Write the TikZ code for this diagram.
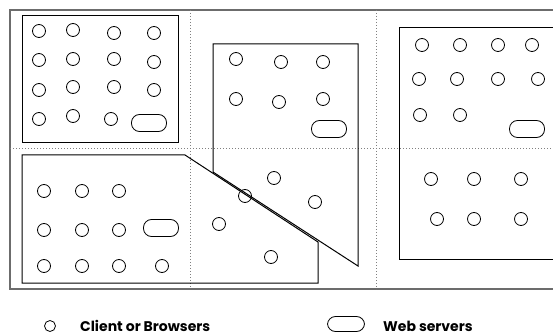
\documentclass[tikz,border=0pt]{standalone}
\usepackage{fontspec}
\setmainfont{Poppins}
\begin{document}
\begin{tikzpicture}[x=1pt,y=-1pt,
  client/.style={circle,draw,line width=0.8pt,minimum size=13pt,inner sep=0pt},
  server/.style={rectangle,draw,line width=0.8pt,rounded corners=8pt,minimum width=35pt,minimum height=17pt,inner sep=0pt},
  zone/.style={draw,line width=1pt},
  frame/.style={draw=gray!85!black,line width=1.4pt},
  grid/.style={draw=gray,line width=1pt,dotted},
  legend/.style={font=\bfseries\fontsize{14}{16}\selectfont,anchor=base west,inner sep=0pt}]
\useasboundingbox (0,0) rectangle (553,336);
\clip (0,0) rectangle (553,336);
% outer frame and dotted grid
\path[frame] (10,10) rectangle (570,289);
\path[grid] (10,149) -- (570,149);
\path[grid] (190,10) -- (190,289);
\path[grid] (376,10) -- (376,289);
% zones
\path[zone] (22,16) rectangle (178,143);
\path[zone] (213,44) -- (358,44) -- (358,266) -- (213,172) -- cycle;
\path[zone] (22,155) -- (185,155) -- (318,242) -- (318,283) -- (22,283) -- cycle;
\path[zone] (399,28) rectangle (580,259);
% top-left zone
\node[client] (a1) at (39,31) {};
\node[client] (a2) at (73,30) {};
\node[client] (a3) at (114,33) {};
\node[client] (a4) at (154,33) {};
\node[client] (a5) at (39,60) {};
\node[client] (a6) at (73,59) {};
\node[client] (a7) at (114,59) {};
\node[client] (a8) at (154,62) {};
\node[client] (a9) at (39,90) {};
\node[client] (a10) at (73,87) {};
\node[client] (a11) at (114,87) {};
\node[client] (a12) at (154,90) {};
\node[client] (a13) at (39,119) {};
\node[client] (a14) at (73,116) {};
\node[client] (a15) at (111,119) {};
\node[server] (as) at (149,123) {};
% middle zone
\node[client] (b1) at (236,59) {};
\node[client] (b2) at (281,62) {};
\node[client] (b3) at (323,62) {};
\node[client] (b4) at (236,99) {};
\node[client] (b5) at (279,102) {};
\node[client] (b6) at (323,99) {};
\node[server] (bs) at (329,129) {};
% right zone
\node[client] (c1) at (422,45) {};
\node[client] (c2) at (460,45) {};
\node[client] (c3) at (498,45) {};
\node[client] (c4) at (532,45) {};
\node[client] (c5) at (419,79) {};
\node[client] (c6) at (457,79) {};
\node[client] (c7) at (498,79) {};
\node[client] (c8) at (538,79) {};
\node[client] (c9) at (420,115) {};
\node[client] (c10) at (460,115) {};
\node[server] (cs) at (527,129) {};
\node[client] (c11) at (431,179) {};
\node[client] (c12) at (474,179) {};
\node[client] (c13) at (521,179) {};
\node[client] (c14) at (437,219) {};
\node[client] (c15) at (474,219) {};
\node[client] (c16) at (521,219) {};
% lower-left zone
\node[client] (d1) at (44,191) {};
\node[client] (d2) at (82,191) {};
\node[client] (d3) at (119,191) {};
\node[client] (d4) at (44,230) {};
\node[client] (d5) at (82,230) {};
\node[client] (d6) at (119,230) {};
\node[server] (ds) at (161,228) {};
\node[client] (d7) at (44,266) {};
\node[client] (d8) at (82,266) {};
\node[client] (d9) at (119,266) {};
\node[client] (d10) at (162,266) {};
% middle lower
\node[client] (e1) at (245,196) {};
\node[client] (e2) at (219,224) {};
\node[client] (e3) at (274,178) {};
\node[client] (e4) at (315,202) {};
\node[client] (e5) at (271,257) {};
% legend
\node[client,minimum size=11pt] (lc) at (50,326) {};
\node[legend] (lct) at (80,331) {Client or Browsers};
\node[server,minimum width=37pt,minimum height=15pt] (ls) at (346,324) {};
\node[legend] (lst) at (383,331) {Web servers};
\end{tikzpicture}
\end{document}
